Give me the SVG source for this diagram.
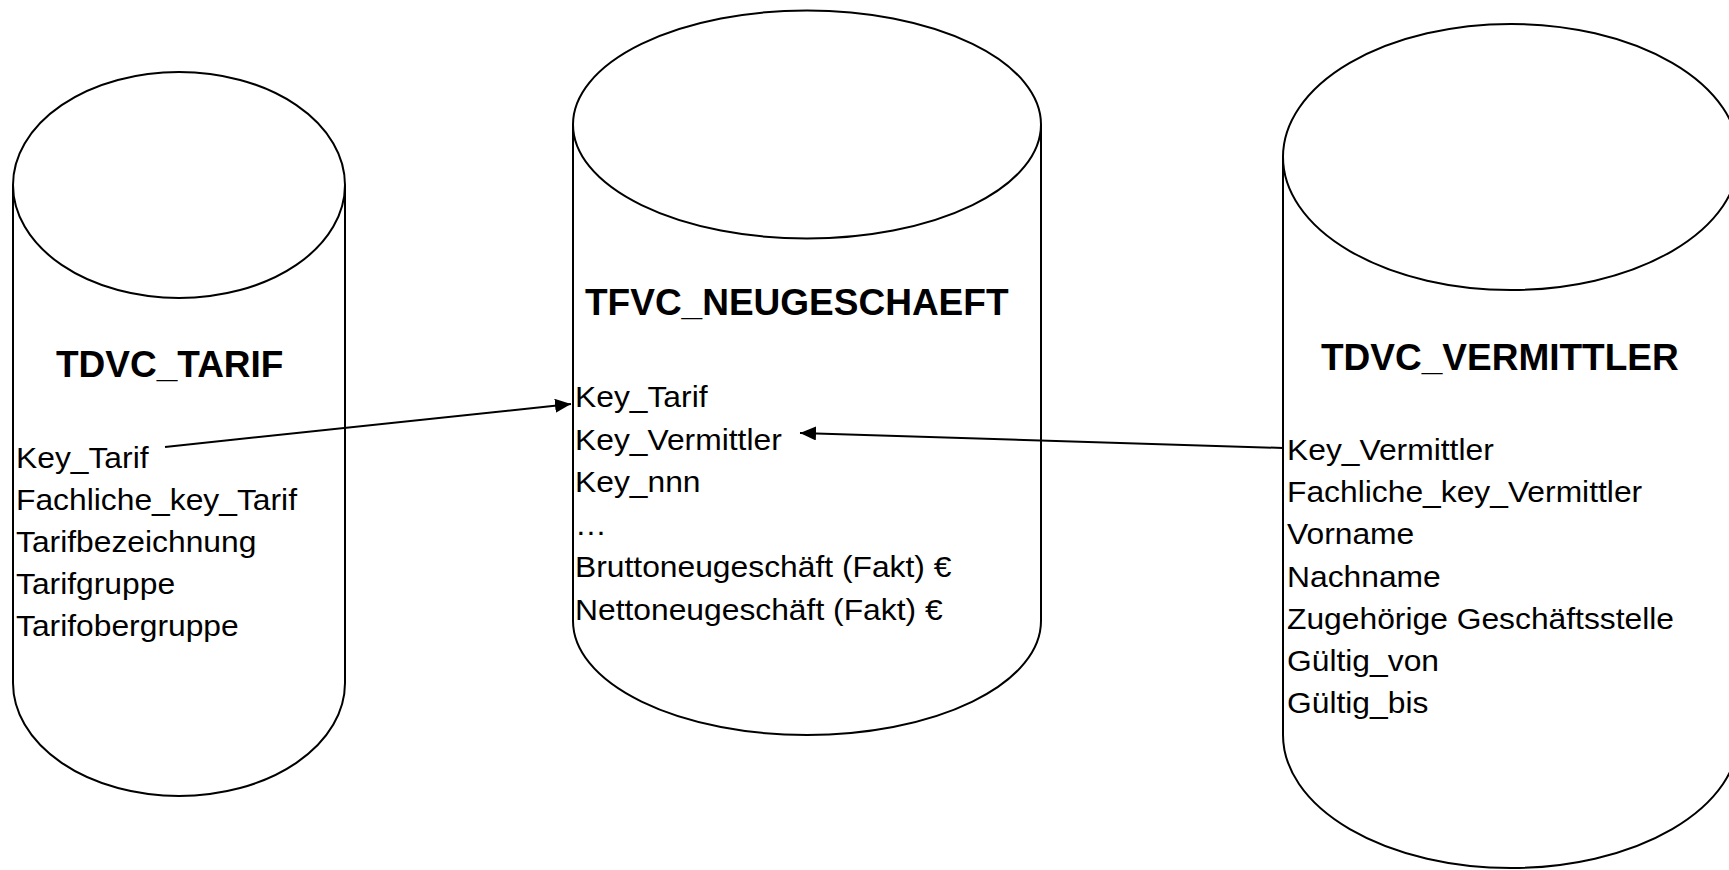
<svg xmlns="http://www.w3.org/2000/svg" width="1729" height="870" viewBox="0 0 1729 870">
  <style>
    .cyl { fill: #ffffff; stroke: #000000; stroke-width: 2; }
    .title { font-family: "Liberation Sans", Arial, sans-serif; font-weight: bold; font-size: 37px; fill: #000000; }
    .field { font-family: "Liberation Sans", Arial, sans-serif; font-size: 30px; fill: #000000; }
    .link { fill: none; stroke: #000000; stroke-width: 2; }
  </style>
  <defs>
    <marker id="arrowhead" markerUnits="userSpaceOnUse" markerWidth="18" markerHeight="14" refX="16" refY="7" orient="auto">
      <path d="M0,0 L16,7 L0,14 Z" fill="#000000"/>
    </marker>
  </defs>
  <rect width="1729" height="870" fill="#ffffff"/>

  <!-- Tariff dimension table -->
  <g id="tdvc-tarif">
    <path class="cyl" d="M13,185 L13,683 A166,113 0 0 0 345,683 L345,185"/>
    <ellipse class="cyl" cx="179" cy="185" rx="166" ry="113"/>
    <text class="title" x="56" y="377">TDVC_TARIF</text>
    <g transform="translate(16,0) scale(1.06,1)">
      <text class="field" x="0" y="468">Key_Tarif</text>
      <text class="field" x="0" y="510">Fachliche_key_Tarif</text>
      <text class="field" x="0" y="552">Tarifbezeichnung</text>
      <text class="field" x="0" y="594">Tarifgruppe</text>
      <text class="field" x="0" y="636">Tarifobergruppe</text>
    </g>
  </g>

  <!-- New business fact table -->
  <g id="tfvc-neugeschaeft">
    <path class="cyl" d="M573,124.5 L573,621 A234,114 0 0 0 1041,621 L1041,124.5"/>
    <ellipse class="cyl" cx="807" cy="124.5" rx="234" ry="114"/>
    <text class="title" x="585" y="315">TFVC_NEUGESCHAEFT</text>
    <g transform="translate(575,0) scale(1.06,1)">
      <text class="field" x="0" y="407">Key_Tarif</text>
      <text class="field" x="0" y="449.6">Key_Vermittler</text>
      <text class="field" x="0" y="492.2">Key_nnn</text>
      <text class="field" x="0" y="534.8">…</text>
      <text class="field" x="0" y="577.4">Bruttoneugeschäft (Fakt) €</text>
      <text class="field" x="0" y="620">Nettoneugeschäft (Fakt) €</text>
    </g>
  </g>

  <!-- Broker dimension table -->
  <g id="tdvc-vermittler">
    <path class="cyl" d="M1283,157 L1283,735 A228,133 0 0 0 1739,735 L1739,157"/>
    <ellipse class="cyl" cx="1511" cy="157" rx="228" ry="133"/>
    <text class="title" x="1321" y="370">TDVC_VERMITTLER</text>
    <g transform="translate(1287,0) scale(1.06,1)">
      <text class="field" x="0" y="460">Key_Vermittler</text>
      <text class="field" x="0" y="502.2">Fachliche_key_Vermittler</text>
      <text class="field" x="0" y="544.4">Vorname</text>
      <text class="field" x="0" y="586.6">Nachname</text>
      <text class="field" x="0" y="628.8">Zugehörige Geschäftsstelle</text>
      <text class="field" x="0" y="671">Gültig_von</text>
      <text class="field" x="0" y="713.2">Gültig_bis</text>
    </g>
  </g>

  <!-- Key relationships -->
  <g id="connectors">
    <line class="link" x1="165" y1="447" x2="571" y2="404" marker-end="url(#arrowhead)"/>
    <line class="link" x1="1283" y1="448" x2="800" y2="433" marker-end="url(#arrowhead)"/>
  </g>
</svg>
